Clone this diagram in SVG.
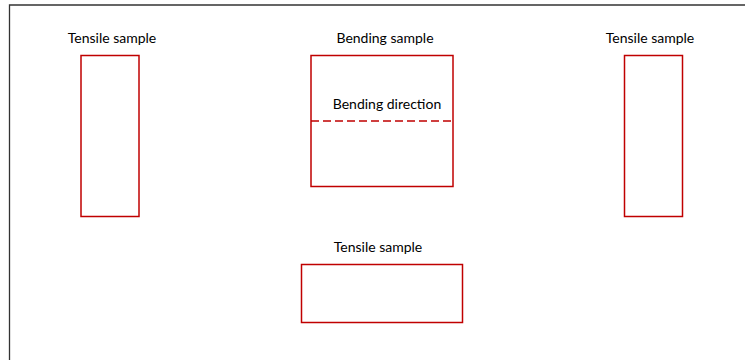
<svg xmlns="http://www.w3.org/2000/svg" width="745" height="360" viewBox="0 0 745 360">
<style>
.box{fill:none;stroke:#c00000;stroke-width:1.5}
.lbl{font-family:Lato,"Noto Sans",sans-serif;font-size:14px;fill:#000;text-anchor:middle}
</style>
<rect width="745" height="360" fill="#fff"/>
<path d="M9.5 360 V5 H745" fill="none" stroke="#333" stroke-width="1.3"/>
<g id="tensile-left">
<rect class="box" x="81" y="55.5" width="58" height="161"/>
<text class="lbl" x="112" y="43">Tensile sample</text>
</g>
<g id="bending">
<rect class="box" x="311" y="55.5" width="142" height="131"/>
<text class="lbl" x="385" y="43">Bending sample</text>
<text class="lbl" x="387" y="109">Bending direction</text>
</g>
<g id="tensile-right">
<rect class="box" x="624.5" y="55.5" width="58" height="161"/>
<text class="lbl" x="650" y="43">Tensile sample</text>
</g>
<g id="tensile-bottom">
<rect class="box" x="301.5" y="264.5" width="161" height="58"/>
<text class="lbl" x="378" y="252">Tensile sample</text>
</g>
<g id="connectors">
<line x1="311" y1="121" x2="453" y2="121" stroke="#c00000" stroke-width="1.5" stroke-dasharray="8,4"/>
</g>
</svg>
